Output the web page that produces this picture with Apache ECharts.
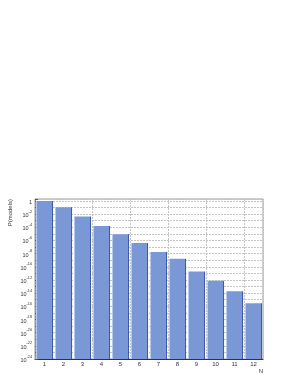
<!DOCTYPE html>
<html><head><meta charset="utf-8">
<script src="https://cdn.jsdelivr.net/npm/echarts@6/dist/echarts.min.js"></script>
<style>html,body{margin:0;padding:0;background:#fff}#c{width:299px;height:374px}</style>
</head><body><div id="c"></div>
<script>
const categories = ['1','2','3','4','5','6','7','8','9','10','11','12'];
const probabilities = [1, 0.11, 4.2e-3, 1.6e-4, 8.5e-6, 4.2e-7, 1.8e-8, 1.7e-9, 2e-11, 8e-13, 2e-14, 3e-16];
const yExpMin = -24;      // lowest decade shown on the y axis
const yExpMax = 0.3;      // top of the frame, in decades
const yTitle = 'P(models)';
const xTitle = 'N';

// decades above the axis floor (log scale drawn on a value axis)
const barHeights = probabilities.map(p => Math.log10(p) - yExpMin);

const chart = echarts.init(document.getElementById('c'), null, {renderer:'canvas'});
const barColor = {
  type:'linear', x:0, y:0, x2:1, y2:0,
  colorStops:[
    {offset:0, color:'#b8c9ee'},{offset:0.07, color:'#b8c9ee'},
    {offset:0.07, color:'#7b98d6'},{offset:0.91, color:'#7b98d6'},
    {offset:0.91, color:'#3c5ba8'},{offset:1, color:'#3c5ba8'}
  ]
};
chart.setOption({
  animation:false,
  textStyle:{fontFamily:'Liberation Sans'},
  grid:{left:35, right:36, top:199, bottom:14, containLabel:false, show:true, borderColor:'#9a9a9a', borderWidth:1},
  xAxis:{
    type:'category', data:categories, boundaryGap:true,
    axisLine:{lineStyle:{color:'#333', width:1}},
    axisTick:{show:false},
    axisLabel:{fontSize:6, color:'#333', margin:2},
    splitLine:{show:true, interval:function(i){return i%2===1 && i>1;}, lineStyle:{color:'#c4c4c4', type:[2,1], width:1}},
    name:xTitle, nameLocation:'end', nameGap:0,
    nameTextStyle:{fontSize:6, color:'#333', align:'right', verticalAlign:'top', padding:[9,0,0,0]}
  },
  yAxis:{
    type:'value', min:0, max:yExpMax - yExpMin, interval:1,
    axisLine:{show:true, lineStyle:{color:'#9a9a9a'}},
    axisTick:{show:true, inside:true, length:3, lineStyle:{color:'#555'}},
    minorTick:{show:true, splitNumber:2, length:2, lineStyle:{color:'#888'}},
    splitLine:{show:true, lineStyle:{color:'#c4c4c4', type:[2,1], width:1}},
    axisLabel:{
      margin:3, color:'#333',
      formatter:function(v){
        const e = v + yExpMin;
        const r = Math.round(e);
        if (Math.abs(e-r) > 1e-6 || r % 2 !== 0) return '';
        if (r === 0) return '{b|1}';
        return '{b|10}{s|' + r + '}';
      },
      rich:{
        b:{fontSize:5.5, color:'#333', fontFamily:'Liberation Sans', lineHeight:9, verticalAlign:'bottom'},
        s:{fontSize:3.8, color:'#333', fontFamily:'Liberation Sans', lineHeight:9, verticalAlign:'top'}
      }
    }
  },
  graphic:[{
    type:'text', x:13, y:199, rotation:Math.PI/2,
    style:{text:yTitle, fontSize:6, fill:'#333', fontFamily:'Liberation Sans', align:'right', verticalAlign:'bottom'}
  }],
  series:[{
    type:'bar', data:barHeights, barCategoryGap:'10%',
    itemStyle:{color:barColor}
  }]
});
</script></body></html>
